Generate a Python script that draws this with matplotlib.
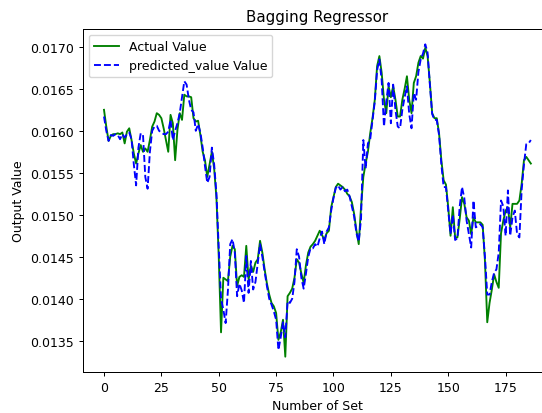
import matplotlib
matplotlib.use("Agg")
import matplotlib.pyplot as plt
import numpy as np

actual = [
0.01625,0.01605,0.01588,0.01594,0.01596,0.01596,0.01597,0.01596,0.01598,0.01585,
0.01599,0.01603,0.01589,0.01573,0.01561,0.01573,0.01583,0.01575,0.01579,0.01575,
0.01589,0.01605,0.01611,0.01621,0.01619,0.01615,0.01603,0.01589,0.01575,0.01619,
0.01609,0.01565,0.01601,0.01621,0.01613,0.01643,0.01641,0.01641,0.01640,0.01615,
0.01611,0.01612,0.01595,0.01575,0.01565,0.01545,0.01560,0.01575,0.01555,0.01520,
0.01450,0.01360,0.01425,0.01423,0.01421,0.01450,0.01463,0.01459,0.01415,0.01426,
0.01428,0.01426,0.01463,0.01423,0.01439,0.01432,0.01443,0.01447,0.01469,0.01455,
0.01435,0.01418,0.01405,0.01395,0.01391,0.01383,0.01351,0.01360,0.01375,0.01331,
0.01403,0.01407,0.01412,0.01425,0.01447,0.01443,0.01430,0.01419,0.01440,0.01455,
0.01462,0.01465,0.01469,0.01475,0.01481,0.01476,0.01470,0.01478,0.01481,0.01509,
0.01521,0.01533,0.01537,0.01535,0.01533,0.01530,0.01525,0.01522,0.01515,0.01501,
0.01481,0.01465,0.01509,0.01545,0.01561,0.01575,0.01597,0.01615,0.01637,0.01677,
0.01689,0.01669,0.01637,0.01621,0.01653,0.01640,0.01653,0.01637,0.01617,0.01617,
0.01637,0.01650,0.01665,0.01637,0.01621,0.01657,0.01665,0.01681,0.01689,0.01686,
0.01699,0.01689,0.01657,0.01621,0.01615,0.01615,0.01597,0.01565,0.01541,0.01536,
0.01509,0.01475,0.01509,0.01473,0.01473,0.01495,0.01521,0.01513,0.01497,0.01493,
0.01477,0.01497,0.01491,0.01491,0.01491,0.01488,0.01445,0.01372,0.01395,0.01411,
0.01429,0.01420,0.01413,0.01478,0.01493,0.01505,0.01509,0.01485,0.01513,0.01513,
0.01513,0.01517,0.01537,0.01565,0.01569,0.01565,0.01561,
]

predicted = [
0.01617,0.01600,0.01588,0.01595,0.01594,0.01596,0.01595,0.01590,0.01596,0.01592,
0.01596,0.01598,0.01590,0.01560,0.01535,0.01580,0.01597,0.01595,0.01545,0.01531,
0.01575,0.01600,0.01605,0.01606,0.01600,0.01598,0.01596,0.01596,0.01599,0.01613,
0.01589,0.01600,0.01609,0.01621,0.01640,0.01659,0.01655,0.01637,0.01625,0.01622,
0.01600,0.01608,0.01598,0.01580,0.01558,0.01538,0.01545,0.01580,0.01560,0.01525,
0.01460,0.01400,0.01387,0.01371,0.01410,0.01465,0.01471,0.01455,0.01403,0.01418,
0.01410,0.01395,0.01451,0.01407,0.01445,0.01411,0.01420,0.01443,0.01465,0.01450,
0.01432,0.01415,0.01400,0.01393,0.01385,0.01375,0.01339,0.01354,0.01372,0.01354,
0.01397,0.01395,0.01400,0.01420,0.01459,0.01450,0.01425,0.01412,0.01430,0.01450,
0.01460,0.01460,0.01465,0.01462,0.01472,0.01480,0.01465,0.01480,0.01485,0.01505,
0.01520,0.01532,0.01535,0.01530,0.01533,0.01528,0.01530,0.01522,0.01510,0.01498,
0.01478,0.01468,0.01495,0.01589,0.01555,0.01585,0.01590,0.01612,0.01635,0.01672,
0.01685,0.01660,0.01605,0.01635,0.01657,0.01609,0.01655,0.01625,0.01605,0.01603,
0.01625,0.01640,0.01653,0.01620,0.01603,0.01645,0.01637,0.01670,0.01685,0.01692,
0.01703,0.01693,0.01655,0.01620,0.01613,0.01613,0.01595,0.01560,0.01533,0.01533,
0.01505,0.01477,0.01500,0.01470,0.01472,0.01510,0.01533,0.01520,0.01493,0.01477,
0.01461,0.01517,0.01485,0.01487,0.01489,0.01485,0.01450,0.01405,0.01405,0.01420,
0.01431,0.01435,0.01455,0.01517,0.01510,0.01475,0.01529,0.01475,0.01497,0.01505,
0.01477,0.01473,0.01530,0.01560,0.01584,0.01585,0.01589,
]

title = "Bagging Regressor"
xlabel = "Number of Set"
ylabel = "Output Value"
labels = ["Actual Value", "predicted_value Value"]

s = 0.9
W, H = 542, 414
fig = plt.figure(figsize=(W / 100, H / 100), dpi=100)
left, right, top, bottom = 82.65, 552.2, 29.7, 373.3
ax = fig.add_axes([left / W, (H - bottom) / H, (right - left) / W, (bottom - top) / H])

x = np.arange(len(actual))
ax.plot(x, actual, color="green", linewidth=1.5 * s, label=labels[0])
ax.plot(x, predicted, color="blue", linestyle="--", linewidth=1.5 * s, label=labels[1])

ax.set_xticks([0, 25, 50, 75, 100, 125, 150, 175])
ax.yaxis.set_major_formatter(matplotlib.ticker.FormatStrFormatter("%.4f"))
ax.set_title(title, fontsize=12 * s, pad=6 * s)
ax.set_xlabel(xlabel, fontsize=10 * s, labelpad=4 * s)
ax.set_ylabel(ylabel, fontsize=10 * s, labelpad=4 * s)
ax.tick_params(labelsize=10 * s, length=3.5 * s, width=0.8 * s, pad=3.5 * s)
for sp in ax.spines.values():
    sp.set_linewidth(0.8 * s)
ax.legend(loc="upper left", fontsize=10 * s)

fig.savefig("out.png", dpi=100)
